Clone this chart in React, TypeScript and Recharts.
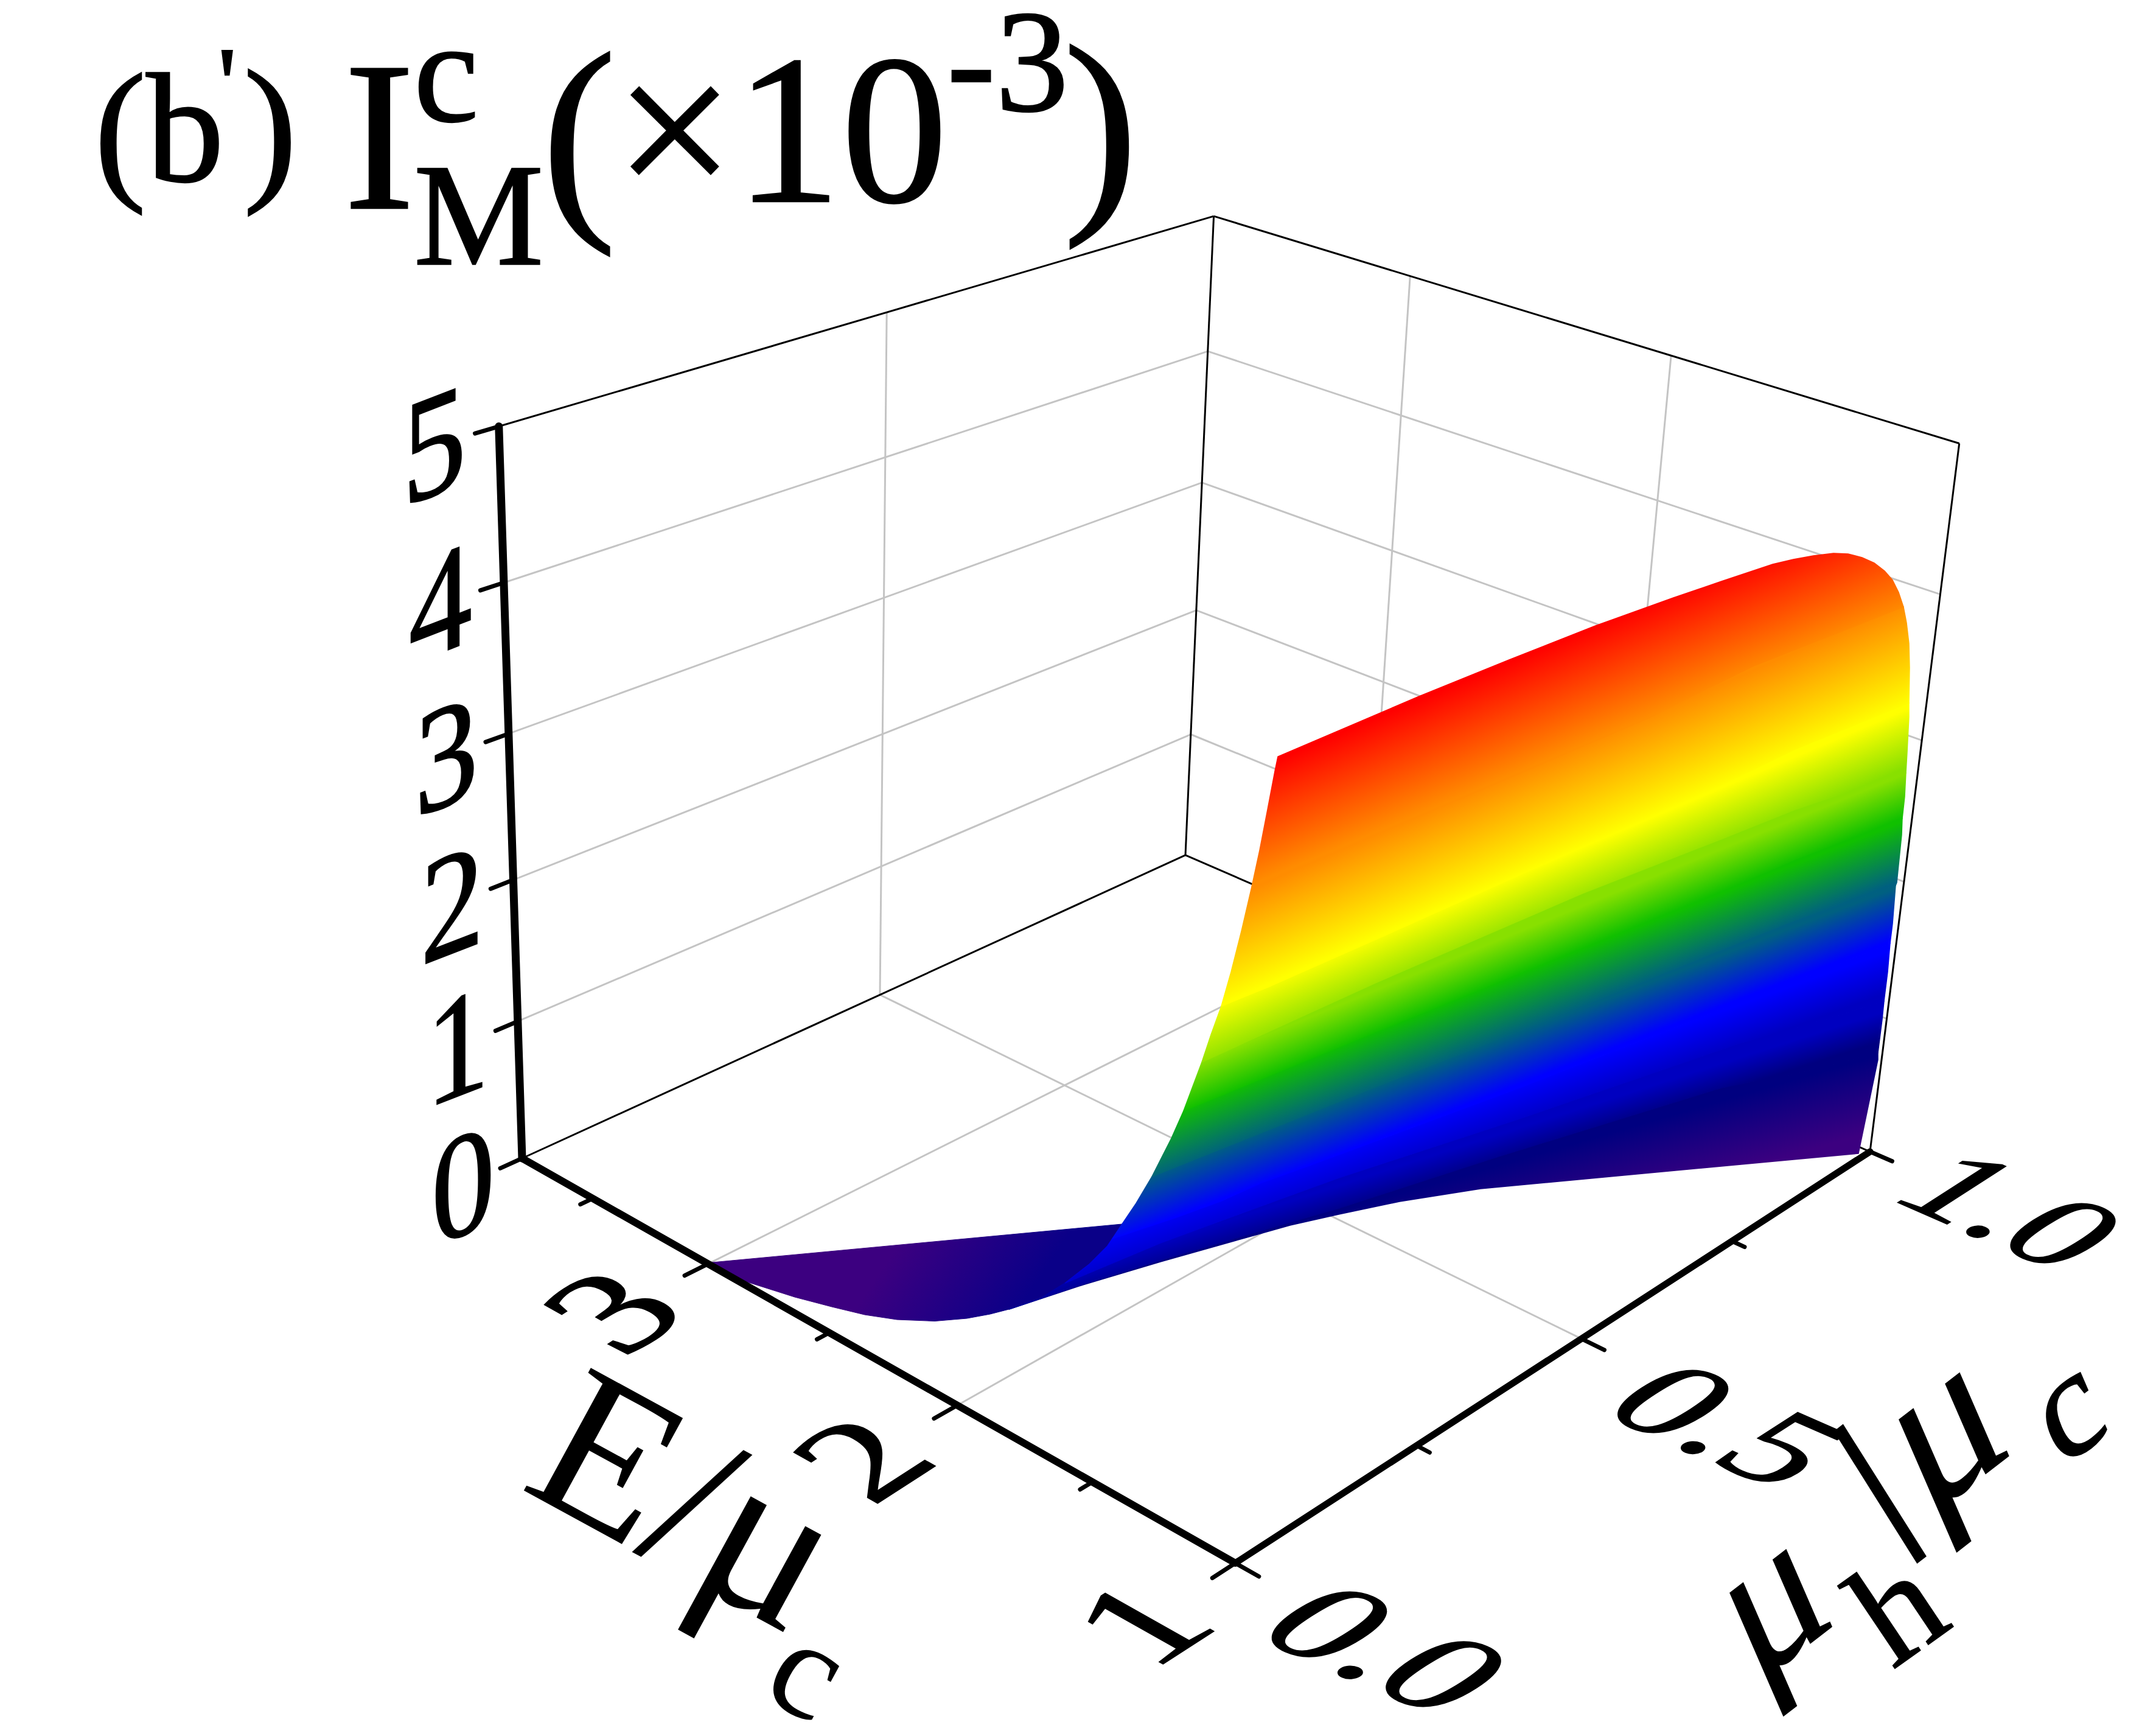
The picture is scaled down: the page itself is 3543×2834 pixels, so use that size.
import React from "react";
import { ComposedChart, Area, Line, XAxis, YAxis } from "recharts";

const WIDTH = 3543;
const HEIGHT = 2834;
const FONT = "'Liberation Serif', 'Times New Roman', serif";

// ---- axis values ----
const E_MAX = 3.82;
const E_MAJOR = [3, 2, 1];
const E_MINOR = [3.5, 2.5, 1.5];
const E_GRID = [3, 2];
const E_LABELS = ["3", "2", "1"];
const MU_MAJOR = [0, 0.5, 1];
const MU_MINOR = [0.25, 0.75];
const MU_GRID = [0.5];
const MU_LABELS = ["0.0", "0.5", "1.0"];
const I_TICKS = [0, 1, 2, 3, 4, 5];
const I_GRID = [1, 2, 3, 4];
const I_LABELS = ["0", "1", "2", "3", "4", "5"];

// ---- the surface, as read in the picture plane (x, y) ----
type P = [number, number];
const foldEdge: P[] = [[1658, 2151], [1710, 2133], [1750, 2108], [1790, 2077], [1820, 2047], [1828, 2035], [1844, 2011], [1867, 1977], [1893, 1933], [1925, 1870], [1963, 1777], [1990, 1700], [2007, 1653], [2023, 1597], [2040, 1530], [2057, 1457], [2070, 1397], [2083, 1330], [2095, 1267], [2100, 1243]];
const rightEdge: P[] = [[3054, 1895], [3086, 1741], [3093, 1675], [3102, 1597], [3110, 1518], [3117, 1450], [3125, 1372], [3130, 1309], [3134, 1236], [3137, 1178], [3138, 1097], [3137, 1057], [3133, 1023], [3128, 997], [3120, 973], [3110, 953], [3097, 938], [3080, 925], [3060, 916], [3037, 910], [3013, 909]];
const wedgeTop: P[] = [[1164.5, 2074.5], [1844, 2011], [1820, 2047], [1790, 2077], [1750, 2108], [1710, 2133], [1658, 2151]];
const wedgeBottom: P[] = [[1627, 2159], [1589, 2166], [1536, 2170.5], [1474, 2168], [1421, 2160], [1367, 2147], [1306, 2131], [1229.5, 2106.7], [1191, 2091]];
const bottomEdge: P[] = [[1658, 2151], [1773, 2113], [1907, 2073], [2120, 2013], [2200, 1995], [2300, 1974], [2433, 1953], [3054, 1895]];
const isoNavy: P[] = [[1658, 2151], [1773, 2112], [1907, 2070], [2120, 2008], [2200, 1985], [2456, 1902], [2829, 1787], [2950, 1764], [3086, 1730]];
const isoDeepBlue: P[] = [[1750, 2108], [1907, 2042], [2120, 1964], [2200, 1935], [2497, 1838], [2862, 1713], [2950, 1690], [3096, 1645]];
const isoBlue: P[] = [[1828, 2035], [1933, 2000], [2007, 1973], [2073, 1943], [2148, 1916], [2246, 1880], [2497, 1787], [2862, 1645], [2950, 1612], [3106, 1550]];
const isoTeal: P[] = [[1893, 1933], [2250, 1790], [2560, 1670], [2830, 1560], [2950, 1512], [3115, 1455]];
const isoGreen: P[] = [[1945, 1825], [2249, 1700], [2580, 1565], [2829, 1465], [2950, 1412], [3126, 1345]];
const isoLime: P[] = [[1975, 1745], [2260, 1615], [2600, 1468], [2830, 1378], [2950, 1330], [3132, 1270]];
const isoYellow: P[] = [[2007, 1653], [2083, 1622], [2282, 1534], [2614, 1385], [2829, 1290], [2950, 1231], [3137, 1155]];
const isoOrange: P[] = [[2057, 1457], [2415, 1306], [2713, 1178], [2880, 1095], [3128, 997]];
const topEdge: P[] = [[2100, 1243], [2332, 1144], [2480, 1084], [2622, 1028], [2750, 982], [2829, 955], [2880, 938], [2913, 927], [2947, 919], [2980, 913], [3013, 909]];
const isoRed: P[] = [[2100, 1243], [2622, 1030]];
const isoViolet: P[] = [[2700, 1965], [3100, 1857]];

const VIOLET = "#3c0080";
const bands = [
  { lower: bottomEdge, upper: isoNavy, isoLow: isoViolet, isoHigh: isoNavy, from: VIOLET, to: "#000080" },
  { lower: isoNavy, upper: isoDeepBlue, isoLow: isoNavy, isoHigh: isoDeepBlue, from: "#000080", to: "#0000c0" },
  { lower: isoDeepBlue, upper: isoBlue, isoLow: isoDeepBlue, isoHigh: isoBlue, from: "#0000c0", to: "#0000ff" },
  { lower: isoBlue, upper: isoTeal, isoLow: isoBlue, isoHigh: isoTeal, from: "#0000ff", to: "#006080" },
  { lower: isoTeal, upper: isoGreen, isoLow: isoTeal, isoHigh: isoGreen, from: "#006080", to: "#10c000" },
  { lower: isoGreen, upper: isoLime, isoLow: isoGreen, isoHigh: isoLime, from: "#10c000", to: "#88e000" },
  { lower: isoLime, upper: isoYellow, isoLow: isoLime, isoHigh: isoYellow, from: "#88e000", to: "#ffff00" },
  { lower: isoYellow, upper: isoOrange, isoLow: isoYellow, isoHigh: isoOrange, from: "#ffff00", to: "#ff8c00" },
  { lower: isoOrange, upper: topEdge, isoLow: isoOrange, isoHigh: isoRed, from: "#ff8c00", to: "#ff0000" },
];

// ---- perspective of the box ----
const ORIGIN = [858, 1903, 1];
const AXIS_E = [888.2, 306, -0.1398];
const AXIS_MU = [1423.9, -257.2, 0.1714];
const AXIS_I = [-103, -1257.8, -0.079];

function project(E: number, mu: number, I: number) {
  const u = (E_MAX - E) / (E_MAX - 1);
  const w = I / 5;
  const c = [0, 1, 2].map((k) => ORIGIN[k] + u * AXIS_E[k] + mu * AXIS_MU[k] + w * AXIS_I[k]);
  return { x: c[0] / c[2], y: c[1] / c[2] };
}
const seg = (a: number[], b: number[]) => [project(a[0], a[1], a[2]), project(b[0], b[1], b[2])];
const pts = (list: P[]) => list.map(([x, y]) => ({ x, y }));
const closed = (list: P[]) => pts([...list, list[0]]);
const between = (curve: P[], yTop: number, yBottom: number) => curve.filter((p) => p[1] > yTop && p[1] < yBottom);
function bandOutline(lower: P[], upper: P[]) {
  const lowL = lower[0];
  const upL = upper[0];
  const lowR = lower[lower.length - 1];
  const upR = upper[upper.length - 1];
  const rightRun = between(rightEdge, upR[1], lowR[1]); // bottom to top
  const leftRun = between(foldEdge, upL[1], lowL[1]).reverse(); // top to bottom
  return closed([...lower, ...rightRun, ...[...upper].reverse(), ...leftRun]);
}
const midOf = (list: P[]) => {
  const a = list[0];
  const b = list[list.length - 1];
  return [(a[0] + b[0]) / 2, (a[1] + b[1]) / 2];
};
function gradientEnds(low: P[], high: P[]) {
  const a = low[low.length - 1];
  const b = low[0];
  const c = high[high.length - 1];
  const d = high[0];
  let dx = a[0] - b[0] + (c[0] - d[0]);
  let dy = a[1] - b[1] + (c[1] - d[1]);
  const len = Math.hypot(dx, dy);
  dx /= len;
  dy /= len;
  const nx = dy;
  const ny = -dx;
  const p = midOf(low);
  const q = midOf(high);
  const t = (q[0] - p[0]) * nx + (q[1] - p[1]) * ny;
  return { x1: p[0], y1: p[1], x2: p[0] + nx * t, y2: p[1] + ny * t };
}

const GRID = "#c4c4c4";
const gridLines = [
  ...I_GRID.map((z) => seg([E_MAX, 0, z], [E_MAX, 1, z])),
  ...I_GRID.map((z) => seg([E_MAX, 1, z], [1, 1, z])),
  ...MU_GRID.map((m) => seg([E_MAX, m, 0], [E_MAX, m, 5])),
  ...E_GRID.map((e) => seg([e, 1, 0], [e, 1, 5])),
  ...E_GRID.map((e) => seg([e, 0, 0], [e, 1, 0])),
  ...MU_GRID.map((m) => seg([1, m, 0], [E_MAX, m, 0])),
];
const boxLines = [
  seg([E_MAX, 0, 0], [E_MAX, 1, 0]),
  seg([E_MAX, 1, 0], [1, 1, 0]),
  seg([E_MAX, 0, 5], [E_MAX, 1, 5]),
  seg([E_MAX, 1, 5], [1, 1, 5]),
  seg([E_MAX, 1, 0], [E_MAX, 1, 5]),
  seg([1, 1, 0], [1, 1, 5]),
];
const axisLines = [
  { d: seg([E_MAX, 0, 0], [E_MAX, 0, 5]), w: 13 },
  { d: seg([E_MAX, 0, 0], [1, 0, 0]), w: 12 },
  { d: seg([1, 0, 0], [1, 1, 0]), w: 11 },
];
const tickLines = [
  ...I_TICKS.map((z) => seg([E_MAX, 0, z], [E_MAX, -0.028, z])),
  ...E_MAJOR.map((e) => seg([e, 0, 0], [e, -0.03, 0])),
  ...E_MINOR.map((e) => seg([e, 0, 0], [e, -0.016, 0])),
  ...MU_MAJOR.map((m) => seg([1, m, 0], [0.92, m, 0])),
  ...MU_MINOR.map((m) => seg([1, m, 0], [0.955, m, 0])),
];

function Warped({ at, m, size, v = 0.33, children }: any) {
  return (
    <text
      transform={`matrix(${m.join(" ")} ${at.x} ${at.y})`}
      x={0}
      y={size * v}
      textAnchor="middle"
      fontFamily={FONT}
      fontSize={size}
      fill="#000"
      stroke="#000"
      strokeWidth={2.5}
    >
      {children}
    </text>
  );
}
const M_I = [0.85, -0.33, 0, 1];
const M_E = [0.92, -0.594, 0.87, 0.49];
const M_MU = [1.0, 0.436, -0.84, 0.54];
const M_TITLE_MU = [0.79, -0.61, 0.4, 0.92];
const M_TITLE_H = [0.85, -0.61, 0.55, 0.82];
const M_SLASH = [0.79, -0.61, 0.85, 0.71];
const MU_LABEL_SIZES = [250, 240, 228];
const MU_LABEL_SHIFT = [0, 24, -4];

const lineProps = { dataKey: "y", dot: false, activeDot: false, isAnimationActive: false, legendType: "none" as const };
const areaProps = { dataKey: "y", type: "linear" as const, dot: false, activeDot: false, isAnimationActive: false, fillOpacity: 1, legendType: "none" as const };

export default function App() {
  return (
    <div style={{ position: "absolute", left: 0, top: 0, width: WIDTH, height: HEIGHT, background: "#fff" }}>
      <ComposedChart width={WIDTH} height={HEIGHT} margin={{ top: 0, right: 0, bottom: 0, left: 0 }}>
        <defs>
          <linearGradient id="wedge" gradientUnits="userSpaceOnUse" x1={1480} y1={2040} x2={1665} y2={2165}>
            <stop offset="0" stopColor={VIOLET} />
            <stop offset="1" stopColor="#0a0088" />
          </linearGradient>
          {bands.map((b, i) => (
            <linearGradient key={i} id={`band${i}`} gradientUnits="userSpaceOnUse" {...gradientEnds(b.isoLow, b.isoHigh)}>
              <stop offset="0" stopColor={b.from} />
              <stop offset="1" stopColor={b.to} />
            </linearGradient>
          ))}
        </defs>
        <XAxis type="number" dataKey="x" domain={[0, WIDTH]} hide allowDataOverflow />
        <YAxis type="number" domain={[0, HEIGHT]} reversed hide allowDataOverflow />

        {gridLines.map((d, i) => (
          <Area key={`g${i}`} {...areaProps} data={d} fill="none" stroke={GRID} strokeWidth={3} />
        ))}
        {boxLines.map((d, i) => (
          <Area key={`b${i}`} {...areaProps} data={d} fill="none" stroke="#000" strokeWidth={3} />
        ))}

        <Area {...areaProps} data={closed([...wedgeTop, ...wedgeBottom])} fill="url(#wedge)" stroke="url(#wedge)" strokeWidth={1} />
        {bands.map((b, i) => (
          <Area
            key={`s${i}`}
            {...areaProps}
            data={bandOutline(b.lower, b.upper)}
            fill={`url(#band${i})`}
            stroke={`url(#band${i})`}
            strokeWidth={1.5}
          />
        ))}

        {tickLines.map((d, i) => (
          <Line key={`t${i}`} {...lineProps} data={d} stroke="#000" strokeWidth={7} strokeLinecap="round" />
        ))}
        {axisLines.map((a, i) => (
          <Line key={`a${i}`} {...lineProps} data={a.d} stroke="#000" strokeWidth={a.w} strokeLinecap="round" />
        ))}

        {I_TICKS.map((z, i) => (
          <Warped key={`il${i}`} at={project(E_MAX, -0.075, z)} m={M_I} size={245}>
            {I_LABELS[i]}
          </Warped>
        ))}
        {E_MAJOR.map((e, i) => (
          <Warped key={`el${i}`} at={project(e, -0.12, 0)} m={M_E} size={255}>
            {E_LABELS[i]}
          </Warped>
        ))}
        {MU_MAJOR.map((m, i) => {
          const p = project(0.5, m, 0);
          return (
            <Warped key={`ml${i}`} at={{ x: p.x, y: p.y + MU_LABEL_SHIFT[i] }} m={M_MU} size={MU_LABEL_SIZES[i]}>
              {MU_LABELS[i]}
            </Warped>
          );
        })}

        <text transform="matrix(0.88 0.48 -0.48 0.88 852 2444)" fontFamily={FONT} fontSize={350} fill="#000">
          E/<tspan fontSize={370}>μ</tspan>
          <tspan fontSize={230} dy={110}>c</tspan>
        </text>
        <Warped at={{ x: 2935, y: 2680 }} m={M_TITLE_MU} size={325} v={0.125}>μ</Warped>
        <Warped at={{ x: 3116, y: 2640 }} m={M_TITLE_H} size={240} v={0.34}>h</Warped>
        <Warped at={{ x: 3088, y: 2453 }} m={M_SLASH} size={350} v={0.33}>/</Warped>
        <Warped at={{ x: 3220, y: 2400 }} m={M_TITLE_MU} size={350} v={0.125}>μ</Warped>
        <Warped at={{ x: 3407, y: 2334 }} m={M_TITLE_MU} size={240} v={0.22}>c</Warped>

        <text fontFamily={FONT} fill="#000" stroke="#000" strokeWidth={2.5}>
          <tspan x={155} y={298} fontSize={256}>(b</tspan>
          <tspan x={358} y={194} fontSize={170}>'</tspan>
          <tspan x={400} y={298} fontSize={265}>)</tspan>
          <tspan x={565} y={342} fontSize={350}>I</tspan>
          <tspan x={680} y={199} fontSize={240}>c</tspan>
          <tspan x={680} y={434} fontSize={240}>M</tspan>
          <tspan x={890} y={342} fontSize={370}>(</tspan>
          <tspan x={1010} y={331} fontSize={350}>×10</tspan>
          <tspan x={1556} y={182} fontSize={240}>-3</tspan>
          <tspan x={1747} y={330} fontSize={370}>)</tspan>
        </text>
      </ComposedChart>
    </div>
  );
}
